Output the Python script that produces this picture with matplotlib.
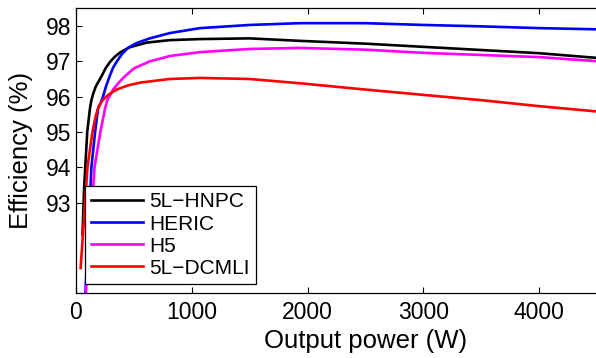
import matplotlib
matplotlib.use("Agg")
import matplotlib.pyplot as plt

plt.rcParams['font.family'] = ['Liberation Sans', 'DejaVu Sans']

# values (W, %)
p_hnpc = [56, 70, 80, 97, 120, 133, 150, 170, 195, 224, 255, 293, 335, 380, 465, 610, 810, 1070, 1500, 1930, 2500, 3000, 3500, 4000, 4600]
e_hnpc = [92.1, 93.4, 94.0, 95.0, 95.65, 95.9, 96.1, 96.28, 96.43, 96.6, 96.8, 96.98, 97.13, 97.25, 97.4, 97.53, 97.6, 97.63, 97.65, 97.58, 97.5, 97.41, 97.32, 97.23, 97.07]

p_heric = [75, 133, 165, 190, 228, 260, 293, 320, 353, 400, 448, 525, 638, 810, 1070, 1500, 1930, 2500, 3000, 3500, 4000, 4600]
e_heric = [90.0, 94.0, 95.0, 95.65, 95.95, 96.3, 96.6, 96.82, 97.0, 97.22, 97.38, 97.52, 97.65, 97.8, 97.94, 98.03, 98.08, 98.08, 98.03, 97.99, 97.94, 97.9]

p_h5 = [80, 160, 210, 250, 270, 320, 370, 420, 500, 638, 810, 1070, 1500, 1930, 2500, 3000, 3500, 4000, 4600]
e_h5 = [90.2, 94.0, 95.0, 95.65, 95.9, 96.2, 96.4, 96.57, 96.8, 97.0, 97.15, 97.26, 97.35, 97.38, 97.33, 97.24, 97.18, 97.12, 96.98]

p_dcmli = [40, 70, 99, 142, 170, 195, 230, 267, 310, 350, 450, 560, 810, 1070, 1500, 1930, 2500, 3000, 3500, 4000, 4600]
e_dcmli = [91.15, 92.6, 94.0, 95.0, 95.45, 95.72, 95.9, 96.02, 96.12, 96.2, 96.32, 96.4, 96.5, 96.53, 96.5, 96.38, 96.2, 96.05, 95.9, 95.73, 95.55]

labels = ['5L\u2212HNPC', 'HERIC', 'H5', '5L\u2212DCMLI']
colors = ['black', '#0000ff', '#ff00ff', '#ff0000']

fig = plt.figure(figsize=(5.96, 3.58), dpi=100)
ax = fig.add_axes([76/596, 65/358, 579/596, 285/358])

series = [(p_hnpc, e_hnpc), (p_heric, e_heric), (p_h5, e_h5), (p_dcmli, e_dcmli)]
for (p, e), lab, c in zip(series, labels, colors):
    ax.plot(p, e, color=c, lw=1.9, label=lab)

ax.set_xlim(0, 5000)
ax.set_ylim(90.44, 98.51)
ax.set_xticks([0, 1000, 2000, 3000, 4000])
ax.set_yticks([93, 94, 95, 96, 97, 98])
ax.tick_params(direction='in', top=True, right=True, labelsize=16.5, length=4, width=0.8)
ax.tick_params(axis='x', pad=6)
ax.tick_params(axis='y', pad=3.5)
for s in ax.spines.values():
    s.set_linewidth(0.9)

ax.set_xlabel('Output power (W)', fontsize=18.5)
ax.set_ylabel('Efficiency (%)', fontsize=18.5)
ax.xaxis.set_label_coords(0.5, -0.125)
ax.yaxis.set_label_coords(-0.074, 0.5)

leg = ax.legend(loc='lower left', bbox_to_anchor=(9/579, 9/285), fontsize=15,
                frameon=True, fancybox=False, edgecolor='black', framealpha=1,
                handlelength=2.5, handletextpad=0.3, labelspacing=0.15,
                borderpad=0.3, borderaxespad=0)
leg.get_frame().set_linewidth(0.9)

fig.savefig('out.png', dpi=100)
